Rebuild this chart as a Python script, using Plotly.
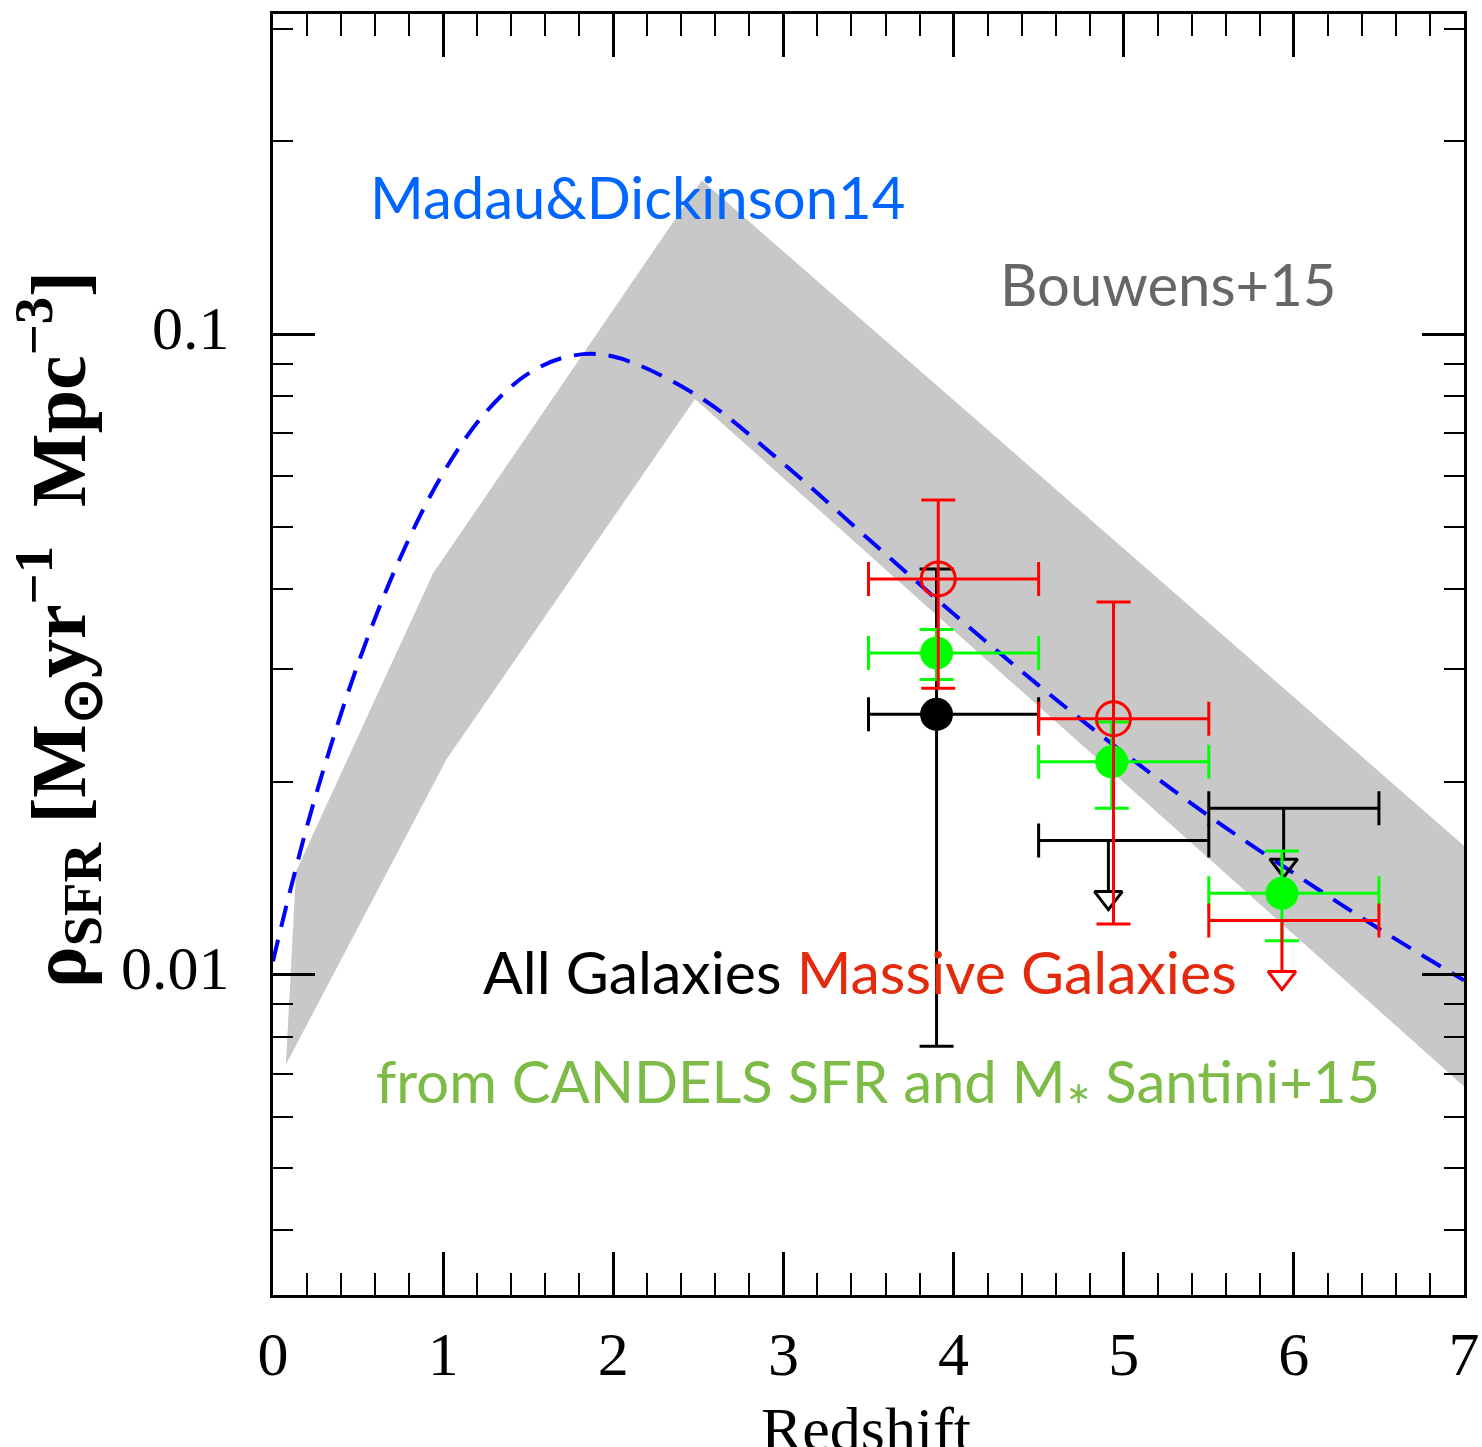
import plotly.graph_objects as go

# ---------------- data ----------------
# Bouwens+15 band (upper and lower envelopes)
band_upper_z = [0.135, 0.94, 2.52, 7.0]
band_upper_rho = [0.0145, 0.0423, 0.174, 0.0159]
band_lower_z = [0.076, 1.02, 2.48, 7.0]
band_lower_rho = [0.00724, 0.0217, 0.0792, 0.00669]

# Madau & Dickinson 14 curve
md_z = [0.0, 0.1, 0.25, 0.5, 0.75, 1.0, 1.25, 1.5, 1.75, 2.0, 2.5, 3.0,
        3.5, 4.0, 4.5, 5.0, 5.5, 6.0, 6.5, 7.0]
md_rho = [0.0105, 0.0135, 0.0190, 0.0306, 0.0449, 0.0607, 0.0755, 0.0868,
          0.0925, 0.0923, 0.0800, 0.0628, 0.0479, 0.0366, 0.0283, 0.0222,
          0.0177, 0.0144, 0.0118, 0.0098]

# All galaxies (black)
all_det_z = [3.90]
all_det_rho = [0.0255]
all_det_hi = [0.0430]
all_det_lo = [0.00773]
all_det_zlo = [3.5]
all_det_zhi = [4.5]
all_lim_z = [4.91, 5.94]
all_lim_rho = [0.0162, 0.0182]
all_lim_zlo = [4.5, 5.5]
all_lim_zhi = [5.5, 6.5]

# Massive galaxies (red)
mass_det_z = [3.91, 4.94]
mass_det_rho = [0.0415, 0.0251]
mass_det_hi = [0.0551, 0.0382]
mass_det_lo = [0.0280, 0.0120]
mass_det_zlo = [3.5, 4.5]
mass_det_zhi = [4.5, 5.5]
mass_lim_z = [5.93]
mass_lim_rho = [0.01215]
mass_lim_zlo = [5.5]
mass_lim_zhi = [6.5]

# CANDELS SFR and M* Santini+15 (green)
san_z = [3.90, 4.93, 5.93]
san_rho = [0.0318, 0.0215, 0.0134]
san_hi = [0.0346, 0.0248, 0.0156]
san_lo = [0.0289, 0.0182, 0.0113]
san_zlo = [3.5, 4.5, 5.5]
san_zhi = [4.5, 5.5, 6.5]

x_tick_vals = [0, 1, 2, 3, 4, 5, 6, 7]
x_tick_text = ["0", "1", "2", "3", "4", "5", "6", "7"]
y_tick_vals = [0.01, 0.1]
y_tick_text = ["0.01", "0.1"]
y_minor_vals = [0.004, 0.005, 0.006, 0.007, 0.008, 0.009,
                0.02, 0.03, 0.04, 0.05, 0.06, 0.07, 0.08, 0.09, 0.2, 0.3]

# ---------------- style ----------------
W, H = 1482, 1447
ML, MR, MT, MB = 273, 18, 14, 152
PLOT_W = W - ML - MR
PLOT_H = H - MT - MB
Y_RANGE = [-2.5, -0.5]
PX_PER_DEX = PLOT_H / (Y_RANGE[1] - Y_RANGE[0])
TRI_SIZE = 24
TIP_PX = 69
TRI_CENTER_DEX = (TIP_PX - TRI_SIZE / 2) / PX_PER_DEX
LINE_END_DEX = (TIP_PX - TRI_SIZE / 2 - TRI_SIZE / 4) / PX_PER_DEX

SERIF = "Liberation Serif"
SANS = "Lato"
EB_T = 3
CAP = 17

fig = go.Figure()

# band
fig.add_trace(go.Scatter(
    x=band_upper_z + band_lower_z[::-1],
    y=band_upper_rho + band_lower_rho[::-1],
    mode="lines", fill="toself", fillcolor="#C8C8C8",
    line=dict(width=0, color="#C8C8C8"), hoverinfo="skip", showlegend=False))

# Madau & Dickinson curve
fig.add_trace(go.Scatter(
    x=md_z, y=md_rho, mode="lines", line_shape="spline",
    line=dict(color="#0000FF", width=4, dash="22px,13px"), showlegend=False))


def add_det(z, rho, hi, lo, zlo, zhi, color, symbol, size, mline=0, mline_color=None):
    fig.add_trace(go.Scatter(
        x=z, y=rho, mode="markers",
        marker=dict(symbol=symbol, size=size, color=color,
                    line=dict(width=mline, color=mline_color or color)),
        error_x=dict(type="data", symmetric=False,
                     array=[b - a for a, b in zip(z, zhi)],
                     arrayminus=[a - b for a, b in zip(z, zlo)],
                     color=color, thickness=EB_T, width=CAP),
        error_y=dict(type="data", symmetric=False,
                     array=[b - a for a, b in zip(rho, hi)],
                     arrayminus=[a - b for a, b in zip(rho, lo)],
                     color=color, thickness=EB_T, width=CAP),
        showlegend=False))


def add_lim(z, rho, zlo, zhi, color):
    fig.add_trace(go.Scatter(
        x=z, y=rho, mode="markers",
        marker=dict(size=1, color="rgba(0,0,0,0)"),
        error_x=dict(type="data", symmetric=False,
                     array=[b - a for a, b in zip(z, zhi)],
                     arrayminus=[a - b for a, b in zip(z, zlo)],
                     color=color, thickness=EB_T, width=CAP),
        error_y=dict(type="data", symmetric=False,
                     array=[0 for _ in rho],
                     arrayminus=[r - r * 10 ** (-LINE_END_DEX) for r in rho],
                     color=color, thickness=EB_T, width=0),
        showlegend=False))
    fig.add_trace(go.Scatter(
        x=z, y=[r * 10 ** (-TRI_CENTER_DEX) for r in rho], mode="markers",
        marker=dict(symbol="triangle-down-open", size=TRI_SIZE, color=color,
                    line=dict(width=3, color=color)),
        showlegend=False))


add_det(all_det_z, all_det_rho, all_det_hi, all_det_lo, all_det_zlo, all_det_zhi,
        "#000000", "circle", 33)
add_lim(all_lim_z, all_lim_rho, all_lim_zlo, all_lim_zhi, "#000000")
add_det(san_z, san_rho, san_hi, san_lo, san_zlo, san_zhi, "#00FF00", "circle", 33)
add_det(mass_det_z, mass_det_rho, mass_det_hi, mass_det_lo, mass_det_zlo, mass_det_zhi,
        "#FF0000", "circle-open", 34, mline=3)
add_lim(mass_lim_z, mass_lim_rho, mass_lim_zlo, mass_lim_zhi, "#FF0000")

axis_common = dict(showgrid=False, zeroline=False, showline=True, linewidth=3,
                   linecolor="#000000", mirror="ticks", ticks="inside",
                   tickcolor="#000000", tickwidth=2.5, automargin=False)

fig.update_layout(
    width=W, height=H,
    margin=dict(l=ML, r=MR, t=MT, b=MB, autoexpand=False),
    paper_bgcolor="white", plot_bgcolor="white",
    xaxis=dict(range=[0, 7], tickmode="array", tickvals=x_tick_vals, ticktext=x_tick_text,
               ticklen=43, ticklabelstandoff=3,
               tickfont=dict(family=SERIF, size=62, color="#000000"),
               minor=dict(ticks="inside", dtick=0.2, ticklen=22, tickwidth=2,
                          tickcolor="#000000"),
               **axis_common),
    yaxis=dict(type="log", range=Y_RANGE, tickmode="array", tickvals=y_tick_vals,
               ticktext=y_tick_text, ticklen=42, ticklabelstandoff=28,
               ticklabelshift=-7,
               tickfont=dict(family=SERIF, size=62, color="#000000"),
               minor=dict(ticks="inside", tickmode="array", tickvals=y_minor_vals,
                          ticklen=20, tickwidth=2, tickcolor="#000000"),
               **axis_common),
    showlegend=False,
)


def px_x(p):
    return (p - ML) / PLOT_W


def px_y(p):
    return (H - MB - p) / PLOT_H


ann = []
ann.append(dict(text="Madau&Dickinson14", x=px_x(368), y=px_y(196),
                xref="paper", yref="paper", xanchor="left", yanchor="middle",
                showarrow=False, font=dict(family=SANS, size=58, color="#0066FF")))
ann.append(dict(text="Bouwens+15", x=px_x(998), y=px_y(283),
                xref="paper", yref="paper", xanchor="left", yanchor="middle",
                showarrow=False, font=dict(family=SANS, size=58, color="#666666")))
ann.append(dict(text="All Galaxies <span style='color:#E42A0C'>Massive Galaxies</span>",
                x=px_x(481), y=px_y(972), xref="paper", yref="paper",
                xanchor="left", yanchor="middle", showarrow=False,
                font=dict(family=SANS, size=59, color="#000000")))
ann.append(dict(text="from CANDELS SFR and M<span style='font-size:30px'>\u2217</span>\u00a0Santini+15",
                x=px_x(374), y=px_y(1080), xref="paper", yref="paper",
                xanchor="left", yanchor="middle", showarrow=False,
                font=dict(family=SANS, size=58, color="#7CBB45")))
ann.append(dict(text="<b>\u03c1<sub>SFR</sub> [M<sub>\u2299</sub>yr<sup>\u22121</sup>\u00a0\u00a0Mpc<sup>\u22123</sup>]</b>",
                x=px_x(58), y=px_y(630),
                xref="paper", yref="paper", xanchor="center", yanchor="middle",
                textangle=-90, showarrow=False,
                font=dict(family=SERIF, size=78, color="#000000")))
ann.append(dict(text="Redshift", x=px_x(866), y=px_y(1393),
                xref="paper", yref="paper", xanchor="center", yanchor="top",
                showarrow=False, font=dict(family=SERIF, size=62, color="#000000")))
fig.update_layout(annotations=ann)

fig.write_html("out.html")
